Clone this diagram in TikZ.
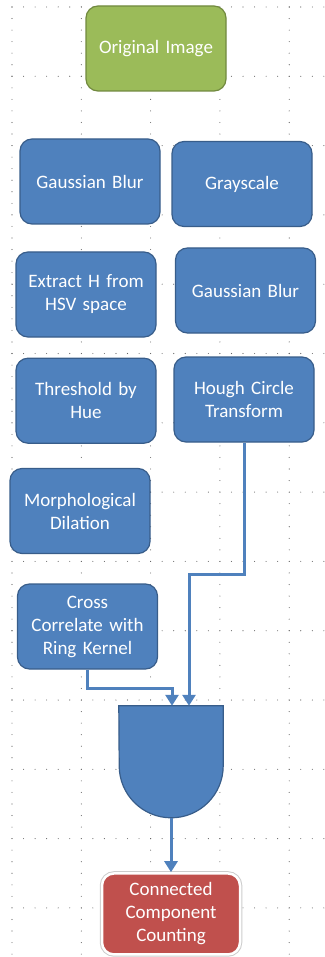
\documentclass[tikz,border=0pt]{standalone}
\usepackage{xcolor}
\usepackage{fontspec}
\setmainfont{Carlito}
\usepackage{tikz}
\usetikzlibrary{positioning,arrows.meta}

\definecolor{boxblue}{HTML}{4F81BD}
\definecolor{boxblueline}{HTML}{385D8A}
\definecolor{boxgreen}{HTML}{9BBB59}
\definecolor{boxgreenline}{HTML}{71893F}
\definecolor{boxred}{HTML}{C0504D}

\begin{document}
\begin{tikzpicture}[x=1pt, y=-1pt,
                stepbox/.style={rectangle, rounded corners=12pt, draw=boxblueline, fill=boxblue, line width=1.2pt, minimum width=140pt, minimum height=85pt, inner sep=4pt, text width=130pt, align=center, text=white, font=\fontsize{19}{23}\selectfont},
                startbox/.style={stepbox, draw=boxgreenline, fill=boxgreen},
                endbox/.style={stepbox, draw=white, line width=2.5pt, fill=boxred, minimum width=136pt, minimum height=81pt, preaction={draw=black!20, line width=4.5pt}},
                gatebox/.style={rectangle, minimum width=104pt, minimum height=112pt, inner sep=0pt},
                arrow/.style={draw=boxblue, line width=3pt, -{Triangle[width=13pt,length=11pt]}}
                ]
                \useasboundingbox (0,0) rectangle (324,957);
                % dotted grid
                \foreach \k in {0,...,4}
                    \foreach \j in {0,...,82}
                        \fill[black!60] (12+69.3*\k, 7+11.55*\j) circle[radius=0.55pt];
                \foreach \k in {0,...,13}
                    \foreach \i in {0,...,27}
                        \fill[black!60] (12+11.55*\i, 7+69.3*\k) circle[radius=0.55pt];

                \node[startbox] (original) at (156,48.5) {Original Image};
                \node[stepbox] (blurL) at (90,181.5) {Gaussian Blur};
                \node[stepbox] (gray) at (242,184) {Grayscale};
                \node[stepbox] (extract) at (86,294.5) {Extract H from\\HSV space};
                \node[stepbox] (blurR) at (245.5,290.5) {Gaussian Blur};
                \node[stepbox] (threshold) [below=20pt of extract] {Threshold by\\Hue};
                \node[stepbox] (hough) at (244,399.5) {Hough Circle\\Transform};
                \node[stepbox] (dilation) at (80,511) {Morphological\\Dilation};
                \node[stepbox] (cross) at (87.5,626.5) {Cross\\Correlate with\\Ring Kernel};
                \node[gatebox] (merge) at (171,762) {};
                \node[endbox] (count) [below=54pt of merge] {Connected\\Component\\Counting};

                \draw[fill=boxblue, draw=boxblueline, line width=1.2pt] (merge.north west) -- (merge.north east) -- ([yshift=-60pt]merge.north east) arc[start angle=0, end angle=-180, radius=52pt] -- cycle;
                \draw[arrow] (cross.south) -- ++(0,19) -| ([xshift=1pt]merge.north);
                \draw[arrow] (hough.south) -- ++(0,132) -| ([xshift=18pt]merge.north);
                \draw[arrow] (merge.south) -- (count.north);
            \end{tikzpicture}
\end{document}
